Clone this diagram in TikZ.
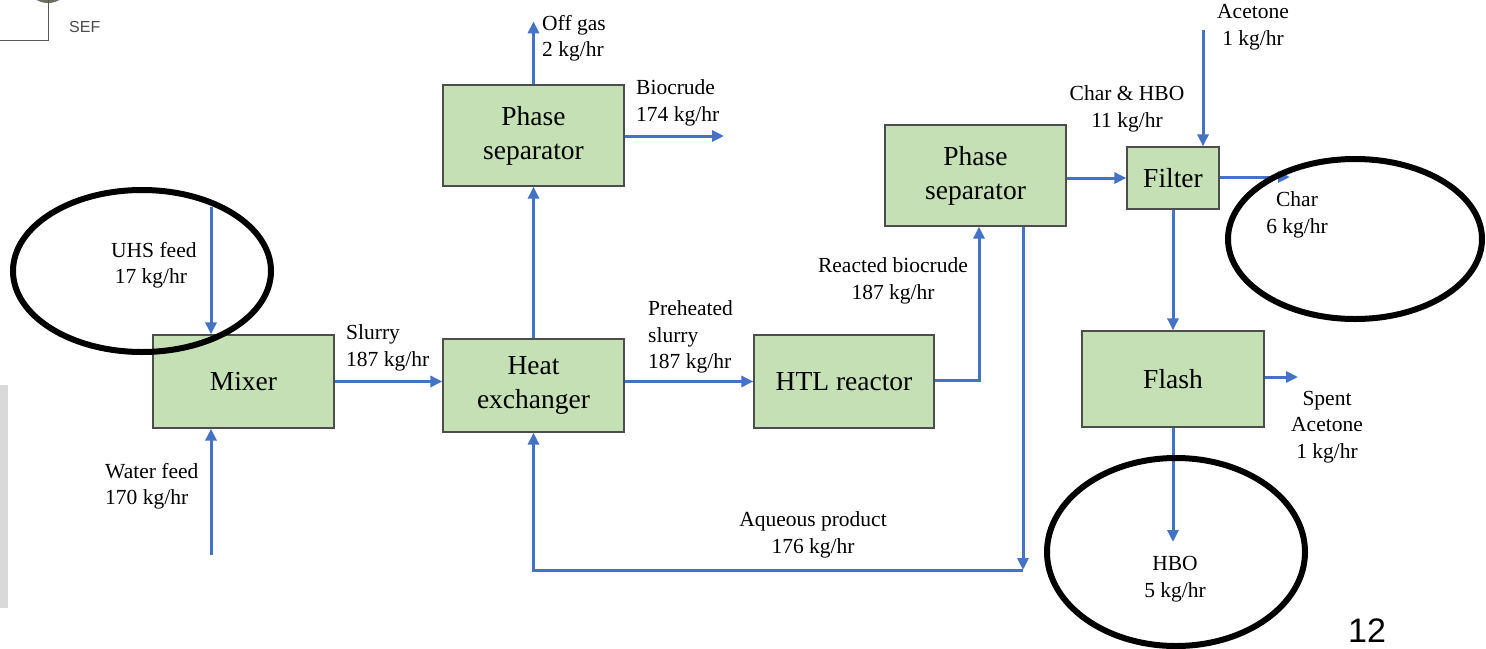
\documentclass[tikz,border=0pt]{standalone}
\usepackage{fontspec}
\setmainfont{Liberation Serif}
\newfontfamily\arialfont{Liberation Sans}
\usetikzlibrary{arrows.meta}
\definecolor{boxgreen}{HTML}{C5E0B4}
\definecolor{flowblue}{HTML}{4472C4}
\definecolor{boxedge}{HTML}{4D4D4D}
\definecolor{bargray}{HTML}{D9D9D9}
\definecolor{sepgray}{HTML}{6E6E64}
\begin{document}
\begin{tikzpicture}[x=1pt,y=-1pt,
  unit/.style={draw=boxedge, line width=1.3pt, fill=boxgreen, inner sep=0pt, align=center, font=\fontsize{27.5}{34}\selectfont},
  flow/.style={draw=flowblue, line width=3pt, -{Triangle[length=12pt,width=11pt]}},
  lbl/.style={inner sep=0pt, font=\fontsize{21.5}{26.5}\selectfont},
  circ/.style={draw=black, line width=6pt}]
\useasboundingbox (0,0) rectangle (1486,648);
\fill[white] (0,0) rectangle (1486,648);

% stray fragments at the picture's edges
\fill[bargray] (0,385) rectangle (8,608);
\fill[sepgray] (48,-9) ellipse [x radius=17pt, y radius=12pt];
\draw[gray!70!black, line width=1pt] (48,0) -- (48,40) -- (0,40);
\node[anchor=west, inner sep=0pt, text=gray!60!black, font=\arialfont\fontsize{16}{18}\selectfont] (sef) at (69,27) {SEF};

% process units
\node[unit, minimum width=181pt, minimum height=93pt] (mixer) at (243.5,381.5) {Mixer};
\node[unit, minimum width=181pt, minimum height=93pt] (hx) at (533.5,385.5) {Heat\\exchanger};
\node[unit, minimum width=181pt, minimum height=101pt] (ps1) at (533.5,135.5) {Phase\\separator};
\node[unit, minimum width=180pt, minimum height=93pt] (htl) at (844,381.5) {HTL reactor};
\node[unit, minimum width=181pt, minimum height=101pt] (ps2) at (975.5,175.5) {Phase\\separator};
\node[unit, minimum width=92pt, minimum height=62pt] (filter) at (1173,178) {Filter};
\node[unit, minimum width=182pt, minimum height=96pt] (flash) at (1173,379) {Flash};

% free ends
\coordinate (uhs) at (211,207);
\coordinate (water) at (211,555);
\coordinate (bio) at (724,136);
\coordinate (rb) at (979,380);
\coordinate (aq) at (1023,570);
\coordinate (acet) at (1203,30);
\coordinate (char) at (1290,177);
\coordinate (spent) at (1298,377);
\coordinate (hbo) at (1173,542);

% flows
\draw[flow] (uhs) -- (uhs |- mixer.north);
\draw[flow] (water) -- (water |- mixer.south);
\draw[flow] (mixer.east) -- (mixer.east -| hx.west);
\draw[flow] (hx.north) -- (ps1.south);
\draw[flow] (ps1.north) -- ++(0,-63);
\draw[flow] (bio -| ps1.east) -- (bio);
\draw[flow] (htl.west -| hx.east) -- (htl.west);
\draw[flow] (rb -| htl.east) -- (rb) -- (rb |- ps2.south);
\draw[flow] (aq |- ps2.south) -- (aq);
\draw[flow] (aq) -- (aq -| hx.south) -- (hx.south);
\draw[flow] (filter.west -| ps2.east) -- (filter.west);
\draw[flow] (acet) -- (acet |- filter.north);
\draw[flow] (char -| filter.east) -- (char);
\draw[flow] (filter.south) -- (flash.north);
\draw[flow] (spent -| flash.east) -- (spent);
\draw[flow] (flash.south) -- (hbo);

% labels
\node[lbl, anchor=west, align=left] (l-uhs) at (111,265) {UHS feed\\\,17 kg/hr};
\node[lbl, anchor=west, align=left] (l-water) at (105,486) {Water feed\\170 kg/hr};
\node[lbl, anchor=west, align=left] (l-slurry) at (346,348) {Slurry\\187 kg/hr};
\node[lbl, anchor=west, align=left] (l-off) at (542,38) {Off gas\\2 kg/hr};
\node[lbl, anchor=west, align=left] (l-bio) at (636,103) {Biocrude\\174 kg/hr};
\node[lbl, anchor=west, align=left] (l-pre) at (648,337) {Preheated\\slurry\\187 kg/hr};
\node[lbl, align=center] (l-rb) at (893,281) {Reacted biocrude\\187 kg/hr};
\node[lbl, align=center] (l-aq) at (813,535) {Aqueous product\\176 kg/hr};
\node[lbl, align=center] (l-chb) at (1127,109) {Char \& HBO\\11 kg/hr};
\node[lbl, align=center] (l-acet) at (1253,27) {Acetone\\1 kg/hr};
\node[lbl, align=center] (l-char) at (1297,215) {Char\\6 kg/hr};
\node[lbl, align=center] (l-spent) at (1327,427) {Spent\\Acetone\\1 kg/hr};
\node[lbl, align=center] (l-hbo) at (1175,579) {HBO\\5 kg/hr};
\node[inner sep=0pt, font=\arialfont\fontsize{34}{40}\selectfont] (page) at (1367,631) {12};

% highlight rings
\draw[circ] (142,271) ellipse [x radius=129pt, y radius=81pt];
\draw[circ] (1355,239) ellipse [x radius=127pt, y radius=80pt];
\draw[circ] (1176,552) ellipse [x radius=129pt, y radius=94pt];
\end{tikzpicture}
\end{document}
